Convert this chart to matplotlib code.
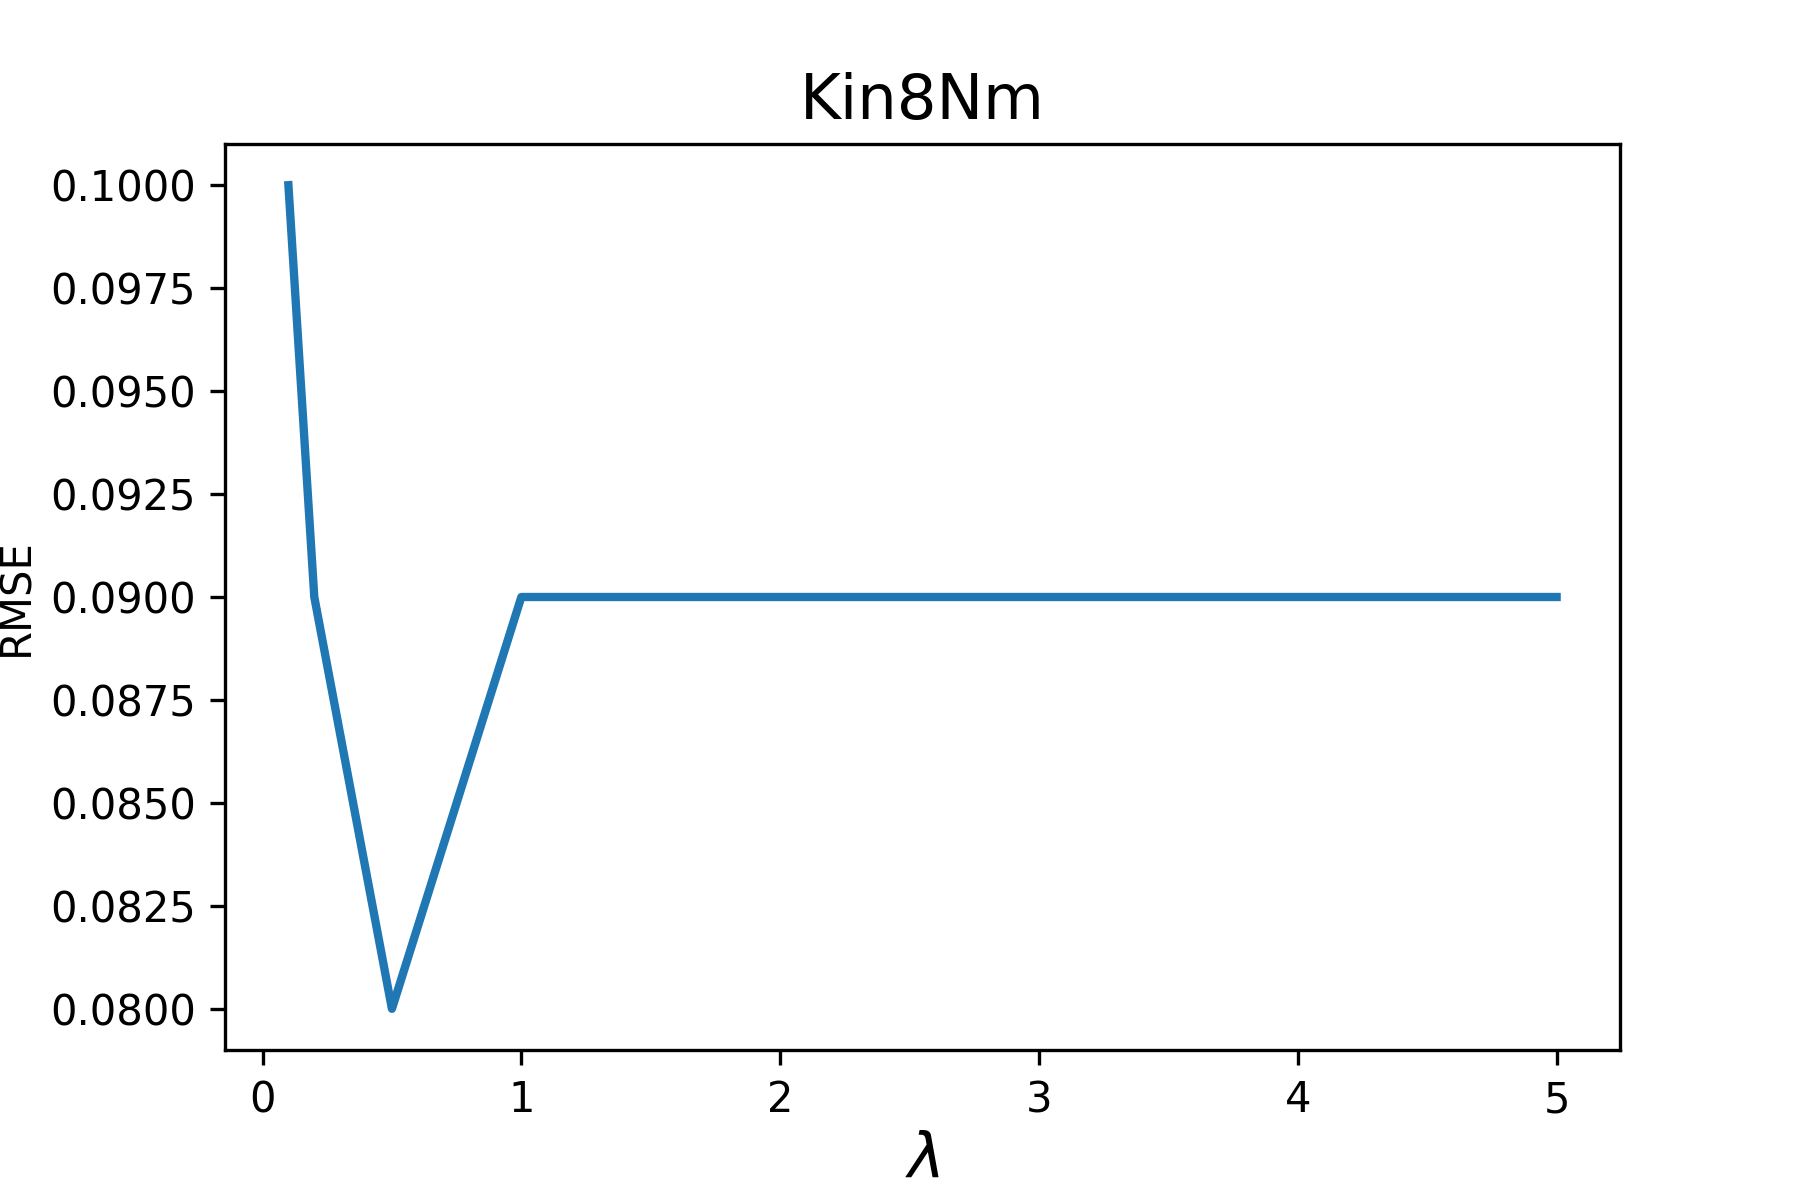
import matplotlib
matplotlib.use("Agg")
import matplotlib.pyplot as plt

lam = [0.1, 0.2, 0.5, 1, 2, 3, 4, 5]
rmse = [0.1, 0.09, 0.08, 0.09, 0.09, 0.09, 0.09, 0.09]

fig = plt.figure(figsize=(6, 4), dpi=300)
ax = fig.add_subplot(111)
fig.subplots_adjust(left=0.125, right=0.9, top=0.88, bottom=0.125)
ax.plot(lam, rmse, linewidth=2)
ax.set_title("Kin8Nm", fontsize=15)
ax.set_xlabel(r"$\lambda$", fontsize=15, labelpad=2)
ax.set_ylabel("RMSE", fontsize=10, labelpad=3)
fig.savefig("out.png", dpi=300)
